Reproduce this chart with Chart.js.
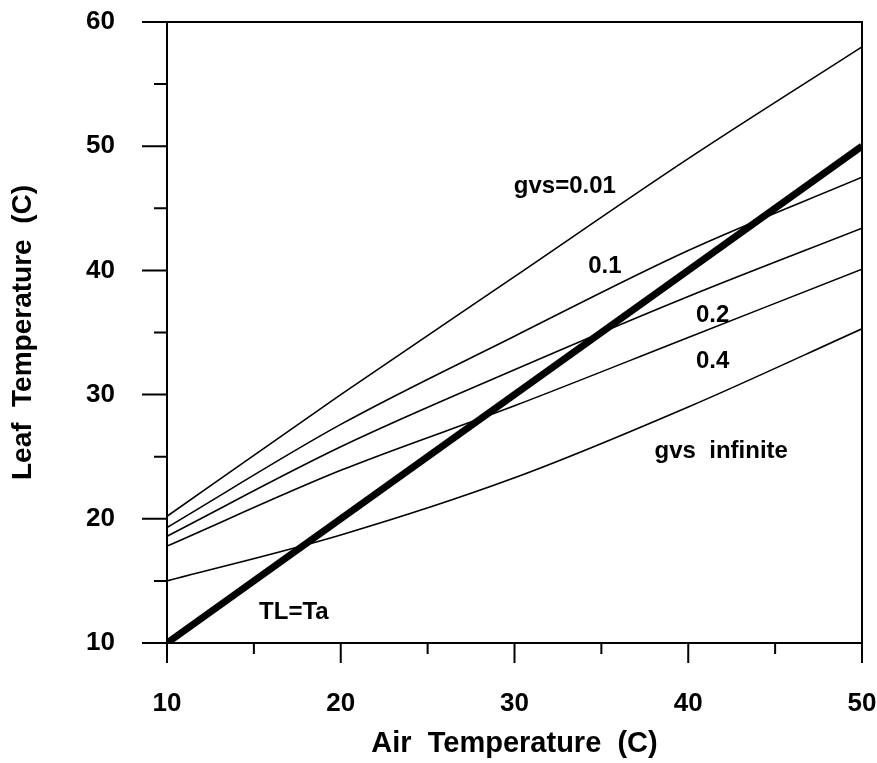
<!DOCTYPE html>
<html>
<head>
<meta charset="utf-8">
<script src="https://cdn.jsdelivr.net/npm/chart.js@4/dist/chart.umd.min.js"></script>
<style>
  body { margin: 0; background: #fff; }
  #chart { display: block; }
</style>
</head>
<body>
<canvas id="chart" width="877" height="763"></canvas>
<script>
// air temperature (C) where the curves were read
const airTemp = [10, 20, 30, 40, 50];

// leaf temperature (C) for each stomatal conductance
const gvs001 = [20.2, 30.0, 39.5, 49.0, 58.0];
const gvs01 = [19.3, 27.6, 34.7, 41.6, 47.5];
const gvs02 = [18.6, 25.8, 32.0, 37.9, 43.4];
const gvs04 = [17.8, 23.9, 29.1, 34.6, 40.1];
const gvsInf = [15.0, 18.7, 23.3, 29.0, 35.3];

// 1:1 line
const oneToOneX = [10, 50];
const oneToOneY = [10, 50];

// curve labels, placed in data units
const curveLabels = [
  { text: "gvs=0.01", x: 32.9, y: 46.8 },
  { text: "0.1", x: 35.2, y: 40.3 },
  { text: "0.2", x: 41.4, y: 36.4 },
  { text: "0.4", x: 41.4, y: 32.7 },
  { text: "gvs  infinite", x: 41.9, y: 25.4 },
  { text: "TL=Ta", x: 17.3, y: 12.5 },
];

const FONT = "'Liberation Sans', Arial, sans-serif";

const toPoints = (xs, ys) => xs.map((x, i) => ({ x: x, y: ys[i] }));

const thin = (label, ys) => ({
  label: label,
  data: toPoints(airTemp, ys),
  borderColor: "#000",
  borderWidth: 1.6,
  pointRadius: 0,
  cubicInterpolationMode: "monotone",
});

// frame, tick marks and curve labels
const decorations = {
  id: "decorations",
  afterDraw(c) {
    const ctx = c.ctx;
    const area = c.chartArea;
    const xs = c.scales.x;
    const ys = c.scales.y;
    ctx.save();
    ctx.strokeStyle = "#000";
    ctx.lineWidth = 2;
    ctx.strokeRect(area.left, area.top, area.right - area.left, area.bottom - area.top);

    ctx.beginPath();
    for (let v = 10; v <= 60; v += 5) {
      const py = ys.getPixelForValue(v);
      const len = v % 10 === 0 ? 25 : 13;
      ctx.moveTo(area.left - len, py);
      ctx.lineTo(area.left, py);
    }
    for (let v = 10; v <= 50; v += 5) {
      const px = xs.getPixelForValue(v);
      const len = v % 10 === 0 ? 20 : 11;
      ctx.moveTo(px, area.bottom);
      ctx.lineTo(px, area.bottom + len);
    }
    ctx.stroke();

    ctx.fillStyle = "#000";
    ctx.font = "bold 24px " + FONT;
    ctx.textAlign = "center";
    ctx.textBaseline = "middle";
    curveLabels.forEach((l) => {
      ctx.fillText(l.text, xs.getPixelForValue(l.x), ys.getPixelForValue(l.y));
    });
    ctx.restore();
  },
};

new Chart(document.querySelector("#chart"), {
  type: "line",
  data: {
    datasets: [
      thin("gvs=0.01", gvs001),
      thin("0.1", gvs01),
      thin("0.2", gvs02),
      thin("0.4", gvs04),
      thin("gvs infinite", gvsInf),
      {
        label: "TL=Ta",
        data: toPoints(oneToOneX, oneToOneY),
        borderColor: "#000",
        borderWidth: 7,
        pointRadius: 0,
      },
    ],
  },
  options: {
    responsive: false,
    animation: false,
    layout: { padding: { left: 0, top: 22, right: 15, bottom: 0 } },
    plugins: {
      legend: { display: false },
      tooltip: { enabled: false },
    },
    scales: {
      x: {
        type: "linear",
        min: 10,
        max: 50,
        grid: { display: false },
        border: { display: false },
        ticks: {
          stepSize: 10,
          padding: 37,
          color: "#000",
          font: { family: FONT, size: 26, weight: "bold" },
        },
        title: {
          display: true,
          text: "Air  Temperature  (C)",
          color: "#000",
          font: { family: FONT, size: 29, weight: "bold" },
          padding: { top: 0, bottom: 2 },
        },
        afterFit(scale) {
          scale.height = 120;
          scale.paddingLeft = 0;
          scale.paddingRight = 0;
        },
      },
      y: {
        min: 10,
        max: 60,
        grid: { display: false },
        border: { display: false },
        ticks: {
          stepSize: 10,
          padding: 44,
          color: "#000",
          font: { family: FONT, size: 26, weight: "bold" },
        },
        title: {
          display: true,
          text: "Leaf  Temperature  (C)",
          color: "#000",
          font: { family: FONT, size: 28, weight: "bold" },
          padding: { top: 6, bottom: 0 },
        },
        afterFit(scale) {
          scale.width = 167;
          scale.paddingTop = 0;
          scale.paddingBottom = 0;
        },
      },
    },
  },
  plugins: [decorations],
});
</script>
</body>
</html>
